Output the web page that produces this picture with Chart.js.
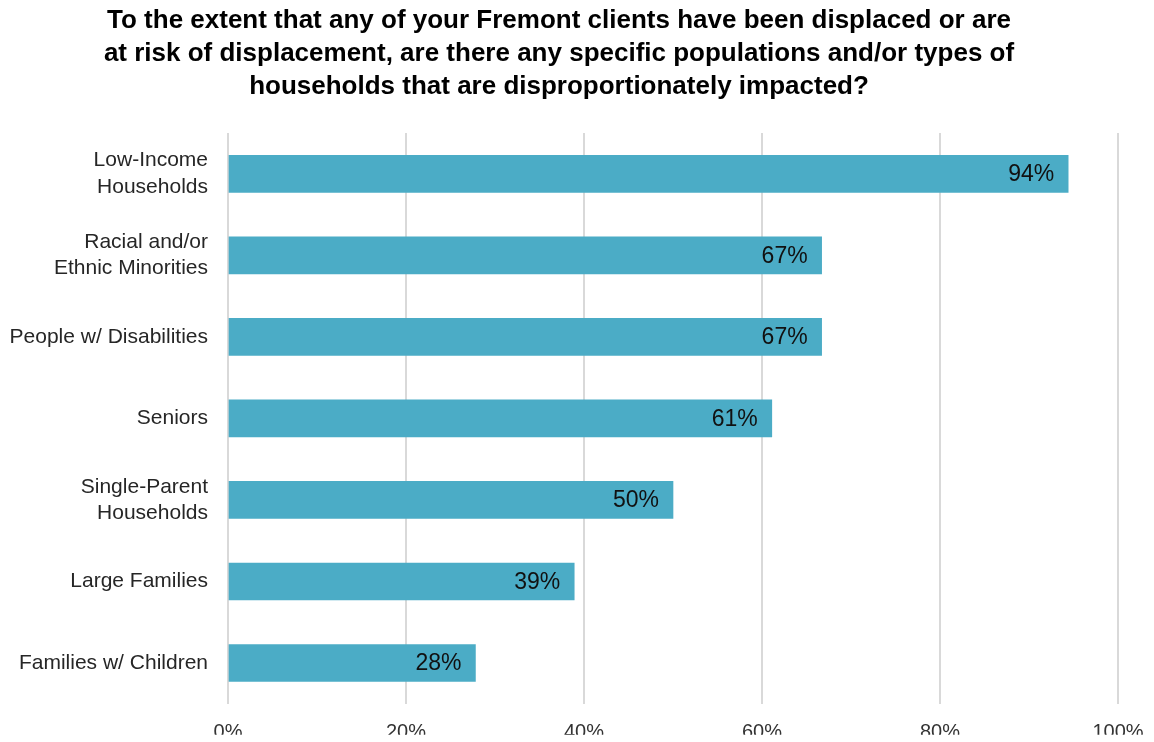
<!DOCTYPE html>
<html>
<head>
<meta charset="utf-8">
<script src="https://cdn.jsdelivr.net/npm/chart.js@4/dist/chart.umd.min.js"></script>
<style>
  html, body { margin: 0; padding: 0; background: #fff; }
  #wrap { width: 1154px; height: 742px; }
</style>
</head>
<body>
<div id="wrap"><canvas id="displacementChart" width="1154" height="742"></canvas></div>
<script>
// groups most affected by displacement (share of respondents, %)
const categories = [
  ["Low-Income", "Households"],
  ["Racial and/or", "Ethnic Minorities"],
  "People w/ Disabilities",
  "Seniors",
  ["Single-Parent", "Households"],
  "Large Families",
  "Families w/ Children"
];
const shares = [94.4, 66.7, 66.7, 61.1, 50.0, 38.9, 27.8];
const tickValues = [0, 20, 40, 60, 80, 100];

const titleLines = [
  "To the extent that any of your Fremont clients have been displaced or are",
  "at risk of displacement, are there any specific populations and/or types of",
  "households that are disproportionately impacted?"
];

const FONT = "'Liberation Sans', Arial, sans-serif";

// write the percentage just inside the end of each bar
const barLabels = {
  id: "barLabels",
  afterDatasetsDraw(chart) {
    const ctx = chart.ctx;
    const meta = chart.getDatasetMeta(0);
    ctx.save();
    ctx.font = "23px " + FONT;
    ctx.fillStyle = "#111";
    ctx.textAlign = "right";
    ctx.textBaseline = "middle";
    meta.data.forEach(function (bar, i) {
      ctx.fillText(Math.round(shares[i]) + "%", bar.x - 14, bar.y + 1);
    });
    ctx.restore();
  }
};

const ctx = document.getElementById("displacementChart").getContext("2d");
new Chart(ctx, {
  type: "bar",
  data: {
    labels: categories,
    datasets: [
      {
        data: shares,
        backgroundColor: "#4BACC6",
        borderWidth: 0,
        barThickness: 37
      }
    ]
  },
  plugins: [barLabels],
  options: {
    indexAxis: "y",
    responsive: false,
    animation: false,
    layout: { padding: { left: 0, right: 36, top: 0, bottom: 0 } },
    scales: {
      x: {
        min: 0,
        max: 100,
        afterBuildTicks: function (axis) {
          axis.ticks = tickValues.map(function (v) { return { value: v }; });
        },
        afterFit: function (axis) {
          axis.height = 31;
          axis.paddingLeft = 0;
          axis.paddingRight = 0;
        },
        grid: { color: "#d9d9d9", lineWidth: 2, drawTicks: false },
        border: { display: false },
        ticks: {
          padding: 17,
          color: "#333",
          font: { family: FONT, size: 20 },
          callback: function (v) { return v + "%"; }
        }
      },
      y: {
        afterFit: function (axis) { axis.width = 228; },
        grid: { display: false },
        border: { display: false },
        ticks: {
          padding: 12,
          color: "#262626",
          font: { family: FONT, size: 21, lineHeight: 1.25 }
        }
      }
    },
    plugins: {
      legend: { display: false },
      tooltip: { enabled: false },
      title: {
        display: true,
        text: titleLines,
        color: "#000",
        font: { family: FONT, size: 26, weight: "bold", lineHeight: 1.27 },
        padding: { top: 4, bottom: 30 }
      }
    }
  }
});
</script>
</body>
</html>
